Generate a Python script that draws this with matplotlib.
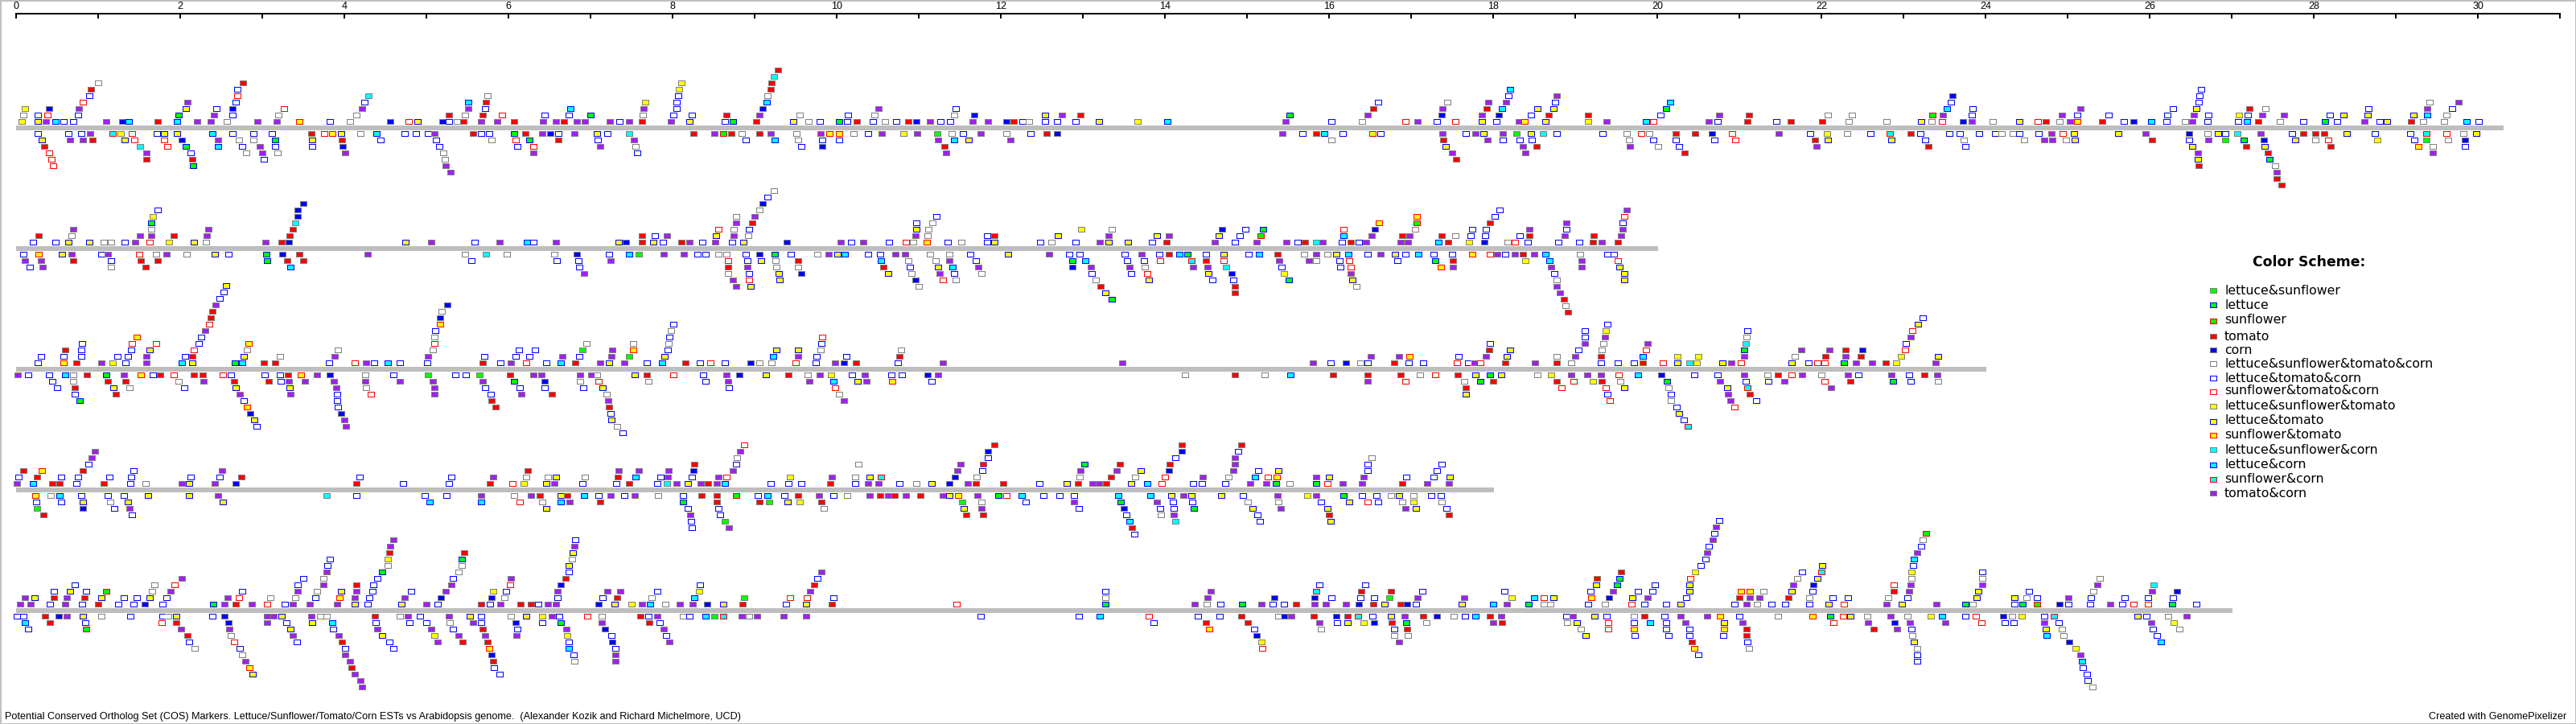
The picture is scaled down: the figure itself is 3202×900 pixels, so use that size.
import matplotlib
matplotlib.use("Agg")
import matplotlib.pyplot as plt
from matplotlib.patches import Rectangle

# ---------- data: marker positions (Mb) by row above (U) / below (D) each chromosome, with class codes ----------
CHROM_LENGTHS = [30.31, 20.01, 24.01, 18.01, 27.01]
RULER_TICKS = list(range(32))
RULER_LABELS = [str(i) if i % 2 == 0 else "" for i in RULER_TICKS]

CLASS_NAMES = ["lettuce&sunflower", "lettuce", "sunflower", "tomato", "corn",
               "lettuce&sunflower&tomato&corn", "lettuce&tomato&corn", "sunflower&tomato&corn",
               "lettuce&sunflower&tomato", "lettuce&tomato", "sunflower&tomato",
               "lettuce&sunflower&corn", "lettuce&corn", "sunflower&corn", "tomato&corn"]
CLASS_CODES = "abcTCWBRYyZkKrP"
CLASS_FACE = ["#00FF00", "#00FF00", "#00FF00", "#FF0000", "#0000FF", "#FFFFFF", "#FFFFFF", "#FFFFFF",
              "#FFFF00", "#FFFF00", "#FFFF00", "#00FFFF", "#00FFFF", "#00FFFF", "#A020F0"]
CLASS_EDGE = ["#808080", "#0000FF", "#FF0000", "#808080", "#808080", "#808080", "#0000FF", "#FF0000",
              "#808080", "#0000FF", "#FF0000", "#808080", "#0000FF", "#FF0000", "#808080"]

# Chromosome 1
T1_U1 = [0.07,0.27,0.37,0.49,0.58,0.70,1.10,1.30,1.38,1.73,1.97,2.21,2.38,2.57,2.95,3.18,3.46,3.83,4.07,4.56,4.79,4.90,5.20,5.28,5.38,5.46,5.67,5.87,6.07,6.43,6.58,6.68,6.84,6.94,7.24,7.36,7.48,7.63,7.99,8.21,8.64,8.74,9.02,9.48,9.66,9.80,10.03,10.13,10.25,
 10.45,10.59,10.73,10.88,10.98,11.14,11.27,11.39,11.66,11.85,12.07,12.16,12.27,12.35,12.54,12.69,12.92,13.20,13.67,14.03,15.48,16.03,16.41,16.94,17.08,17.32,17.54,17.87,18.04,18.32,18.39,18.64,19.16,19.39,19.87,19.96,20.63,20.74,
 21.10,21.46,21.63,22.01,22.34,22.80,23.22,23.35,23.48,23.73,23.84,24.09,24.42,24.64,24.74,24.91,25.03,25.12,25.43,25.69,25.81,26.02,26.21,26.44,26.52,26.71,27.08,27.19,27.33,27.59,27.88,28.14,28.29,28.62,28.81,28.90,29.19,29.34,29.59,29.87,30.01]
T1_U1_K = ("YyPKBBPCKTKPPWPPZBWCRyCBWTPPTPPTPPPBPTPyBbTyWBbBT" +
 "BWBTCPBBPPCTBWBBByYKPBWRPBRyBPZyYPKRPB" +
 "TBTTWWyWRCPWyRTWPZTBCKBWPBBKTWBbBPByTWWKB")
T1_U2 = [0.09,0.27,0.39,0.76,1.99,2.42,2.64,3.20,4.15,5.28,5.48,5.69,5.93,6.45,6.74,7.00,7.64,8.01,8.24,8.66,9.06,9.55,10.14,
 10.47,11.44,11.68,12.54,12.75,12.98,15.52,16.48,17.38,17.87,18.07,18.47,18.68,19.16,20.04,20.76,
 21.12,22.08,22.38,23.36,23.49,23.84,24.94,25.12,25.50,26.22,26.54,26.72,27.09,27.20,27.38,27.64,28.20,28.37,28.66,29.22,29.39,29.62]
T1_U2_K = "WBRBbPBWWTWTRBBbWBBTPWB" + "WWCyPTbPCPCBTTBP" + "TWWcPBPBBBPBYBPPByyyKW"
T1_U3 = [0.11,0.41,0.77,2.07,2.45,2.64,3.27,4.22,5.51,5.72,6.76,7.65,8.05,9.10,
 10.51,11.46,16.54,17.39,17.93,18.11,18.54,18.74,20.11,
 23.53,23.85,25.16,26.29,26.57,27.22,27.42,28.67,29.39,29.69]
T1_U3_K = "YCPyBCRPPBKPBC" + "PBTPTKyyb" + "KBPByTWBPB"
T1_U4 = [0.82,2.09,2.68,4.25,5.51,5.73,7.67,8.05,9.15,16.60,17.45,17.95,18.16,18.76,20.16,23.58,26.60,29.42,29.77]
T1_U4_K = "RPBBKTYBK" + "BWPPBK" + "BBWP"
T1_U5 = [0.90,2.70,4.30,5.75,8.07,9.16,18.19,18.78,23.60,26.61]
T1_U5_K = "BRkWBW" + "BP" + "CB"
T1_U6 = [0.92,2.70,8.08,9.20,18.21,26.63]
T1_U6_K = "TBYTKB"
T1_U7 = [1.00,2.77,8.11,9.21]
T1_U7_K = "WTYT"
T1_U8 = [9.24]
T1_U8_K = "k"
T1_U9 = [9.29]
T1_U9_K = "T"
T1_D1 = [0.27,0.64,0.80,0.91,1.18,1.28,1.42,1.72,1.81,1.97,2.40,2.64,2.90,3.12,3.60,3.76,3.86,3.97,4.20,4.40,4.74,4.88,5.02,5.10,5.57,5.67,5.77,6.07,6.21,6.42,6.51,6.61,6.81,7.08,7.21,7.48,8.26,8.51,8.62,8.72,8.85,9.06,9.20,9.51,9.81,9.92,10.03,10.21,
 10.39,10.55,10.82,10.99,11.23,11.41,11.54,11.76,12.07,12.37,12.56,12.69,15.44,15.68,15.85,15.95,16.17,16.53,16.63,17.39,17.67,17.79,17.89,18.12,18.29,18.47,18.61,18.78,19.34,19.63,19.81,19.91,20.23,20.47,20.67,
 20.92,21.49,21.87,22.07,22.32,22.60,22.84,23.09,23.21,23.56,23.69,23.93,24.12,24.20,24.34,24.42,24.65,24.81,24.95,25.08,25.62,25.96,26.49,26.71,26.84,26.93,27.07,27.36,27.74,27.88,28.02,28.13,28.41,28.75,29.18,29.38,29.62,29.83,29.99]
T1_D1_K = "BBBPrYRByyKBBBTRZyWKBBBPTBBbTPCBPyBkTPcTWTPWPZZW" + "BPYPaWBPWBTCPBTKBZBPBPyPaykBBWRWTTC" + "RPBYWBrTBBBBBWWBBPRyyPCWyBkPBTTTyBBrRWy"
T1_D2 = [0.32,0.66,0.82,0.94,1.33,1.45,1.81,2.02,2.47,2.72,2.90,3.16,3.61,3.98,4.45,5.12,5.80,6.09,6.26,6.61,7.09,7.53,8.90,9.25,9.53,9.83,10.03,
 11.24,11.44,11.61,12.12,16.03,17.40,17.94,18.12,18.33,18.48,19.66,19.96,20.23,20.70,
 20.96,21.93,22.08,22.86,23.27,23.74,24.48,24.72,24.82,24.99,25.09,26.03,26.49,26.72,26.93,27.15,27.40,27.78,28.02,28.18,28.78,29.23,29.38,29.64,29.85]
T1_D2_K = "yPPTyRRCPWWbyTBBWRbTBPBKWBB" + "PKyPWTPBBBWBBB" + "RTyyBWWPPWyTBPabCyWRYBaWC"
T1_D3 = [0.35,1.51,1.85,2.07,2.47,2.76,2.98,3.16,3.61,3.99,5.16,6.11,6.31,7.12,7.55,9.57,9.83,
 11.32,17.43,18.37,18.53,19.67,20.01,20.27,
 21.95,23.31,23.76,26.52,27.18,27.41,28.21,29.28,29.46,29.85]
T1_D3_K = "TkRbKBPBBCBBRPWBC" + "TyPTPWB" + "PTByTyTZWB"
T1_D4 = [0.41,1.59,2.13,2.81,3.00,3.19,4.01,5.21,6.31,7.57,11.34,17.50,18.40,20.34,26.59,27.45,29.46]
T1_D4_K = "RPBWPWPWPB" + "PPPT" + "PTP"
T1_D5 = [0.44,1.59,2.15,3.02,5.23,17.55,26.59,27.47]
T1_D5_K = "RTTBWTyb"
T1_D6 = [0.46,2.16,5.24,26.60,27.53]
T1_D6_K = "RbPTW"
T1_D7 = [5.30,27.55]
T1_D7_K = "PP"
T1_D8 = [27.55]
T1_D8_K = "T"
T1_D9 = [27.61]
T1_D9_K = "T"

# Chromosome 2
T2_U1 = [0.21,0.49,0.64,0.90,1.07,1.16,1.33,1.46,1.63,1.87,2.17,2.32,3.04,3.24,3.33,4.75,5.06,5.59,5.90,6.23,6.31,6.58,7.35,7.44,7.63,7.77,7.89,8.11,8.21,8.37,8.52,8.73,8.87,9.40,10.05,10.18,
 10.33,10.64,10.85,10.94,11.10,11.36,11.52,11.84,11.93,12.49,12.62,12.92,13.21,13.32,13.55,13.85,14.02,14.61,14.86,15.12,15.49,15.62,15.71,15.85,15.93,16.16,16.27,16.37,16.46,16.88,16.97,17.34,17.46,17.71,17.90,18.18,18.27,18.43,18.80,19.05,19.22,19.33,19.52]
T2_U1_K = "BByyWWBPRYyWPTCyPBPKBPyCTyBTPBPBy" + "CPB" + "PBRWZBWByBWBPyyBTPBPPBTkPBTBPPPKTYCWRBBBTPT"
T2_U2 = [0.28,0.68,1.51,1.65,1.93,2.33,3.34,7.63,7.79,7.94,8.53,8.75,8.93,
 10.97,11.11,11.84,11.93,12.70,13.32,13.91,14.05,14.66,14.92,15.17,16.18,16.52,16.90,16.99,17.38,17.54,17.73,17.91,18.33,18.45,18.88,19.23,19.56]
T2_U2_K = "TWPPTPTTBPyPW" + "PWBTyPyPyBcKPTPTWBBBTPTP"
T2_U3 = [0.70,1.65,2.35,3.38,8.56,8.75,8.94,10.98,11.12,12.99,13.36,14.70,14.99,15.20,16.18,16.56,17.05,17.75,17.92,18.45,18.90,19.58]
T2_U3_K = "PWPTRWB" + "yWYWCBbRCWBBPBP"
T2_U4 = [1.65,3.41,8.78,8.98,10.98,11.17,16.61,17.07,17.97,18.90,19.58]
T2_U4_K = "bkPT" + "BWZcTPB"
T2_U5 = [1.67,3.44,8.78,9.00,11.22,17.07,18.02,19.60]
T2_U5_K = "YCWP" + "BZBR"
T2_U6 = [1.73,3.44,9.06,18.08,19.63]
T2_U6_K = "BCWBP"
T2_U7 = [3.50,9.10]
T2_U7_K = "CC"
T2_U8 = [9.16]
T2_U8_K = "B"
T2_U9 = [9.24]
T2_U9_K = "W"
T2_D1 = [0.09,0.28,0.56,0.68,1.04,1.12,1.50,1.71,1.84,2.08,2.43,2.59,3.05,3.25,3.46,4.29,5.48,5.73,5.99,6.56,6.84,7.23,7.48,7.59,7.90,8.14,8.31,8.41,8.56,8.66,8.90,9.06,9.25,9.45,9.77,9.91,10.01,10.10,
 10.39,10.53,10.72,10.84,11.14,11.38,11.63,12.09,12.59,12.84,12.97,13.51,13.72,13.94,14.05,14.18,14.28,14.50,14.72,15.02,15.15,15.38,15.70,15.85,15.99,16.09,16.24,16.48,16.63,16.81,16.94,17.09,17.28,17.50,17.75,17.97,18.05,18.15,18.27,18.37,18.50,18.64,19.06,19.40,19.48]
T2_D1_K = "BZyPBPRWPWyBbCTPWkWWCBKaPPBBWWBCbBWPyK" + "BBPPWWByPBBBPBTKbByBKTWPWyKBPyBKBBZRPBPTPKWBB"
T2_D2 = [0.11,0.31,0.70,1.16,1.52,1.73,3.06,3.31,3.50,5.55,6.59,6.86,7.25,8.68,8.92,9.08,9.26,9.53,
 10.54,10.88,11.21,11.38,11.70,12.88,13.03,13.54,13.75,13.95,14.33,14.50,14.72,15.40,15.76,15.85,16.13,16.25,16.84,17.30,17.51,18.40,18.69,19.08,19.52]
T2_D2_K = "PPTBTTbTTBBBPRByWT" + "KWWPBbKBBRrTRPPWBRBbTYKPR"
T2_D3 = [0.17,0.33,1.16,1.58,3.35,6.87,8.68,8.92,9.27,9.53,
 10.57,10.90,11.24,11.42,11.73,12.88,13.10,13.57,13.76,14.35,14.52,14.75,15.43,16.14,16.27,17.37,17.51,18.71,19.08,19.54]
T2_D3_K = "BPWTKBTPWW" + "TByKPCPPWPPkBBRZPPPy"
T2_D4 = [6.93,8.68,8.94,9.30,9.57,10.63,10.92,11.26,11.44,11.77,13.11,13.59,13.79,14.53,14.82,15.46,16.27,18.75,19.60]
T2_D4_K = "PWByC" + "yWPBWBBRyCYPBy"
T2_D5 = [8.74,8.94,9.31,10.97,11.30,11.46,13.16,13.81,14.58,14.84,15.51,16.29,18.78,19.60]
T2_D5_K = "PRy" + "CRWWyBBbyWy"
T2_D6 = [8.78,8.96,11.00,13.22,14.86,16.34,18.78]
T2_D6_K = "Py" + "WTTWP"
T2_D7 = [13.28,14.86,18.82]
T2_D7_K = "yTP"
T2_D8 = [13.36,18.87]
T2_D8_K = "bT"
T2_D9 = [18.89]
T2_D9_K = "W"
T2_D10 = [18.92]
T2_D10_K = "T"

# Chromosome 3
T3_U1 = [0.27,0.58,0.74,1.04,1.18,1.34,1.59,2.02,2.15,2.67,2.76,3.02,3.16,3.82,4.13,4.27,4.37,4.53,4.68,5.01,5.69,5.91,6.03,6.22,6.47,6.64,6.82,7.12,7.23,7.42,7.69,7.88,8.16,8.34,8.47,8.64,8.96,9.06,9.21,9.50,9.75,9.99,10.09,10.24,
 10.75,11.30,13.49,15.81,16.02,16.21,16.39,16.48,16.80,16.98,17.15,17.56,17.70,17.77,17.85,18.15,18.51,18.78,18.96,19.32,19.52,19.72,19.83,20.07,20.25,20.40,20.49,20.80,
 20.91,21.02,21.64,21.85,21.96,22.04,22.28,22.43,22.62,22.79,22.92,23.40]
T3_U1_K = "BZTPYBPKybKTTBRPBKBBTBPRBKTPyPBKTBRBCWWRBPCT" + "BPPPBCWBTBBRBPRTPTWBBBTRykYy" + "PRyBRRbPPTYP"
T3_U2 = [0.31,0.58,0.80,1.24,1.37,1.59,2.06,2.15,2.78,3.22,3.89,5.02,5.71,6.09,6.26,6.66,6.87,7.26,7.48,7.91,9.23,9.53,9.76,10.12,
 10.77,16.51,16.86,16.99,17.58,17.92,18.17,18.78,19.00,19.32,19.83,20.25,20.50,
 21.06,21.68,22.05,22.30,22.49,22.98,23.43]
T3_U2_K = "BBBBBPBTyWPPBBBPBPayKPBB" + "TPPZBPyWPTKYY" + "PWTPTYy"
T3_U3 = [0.60,0.80,1.41,1.63,2.17,2.82,3.93,5.08,6.13,6.33,6.91,7.27,7.52,7.95,9.27,9.53,9.81,
 10.79,17.96,18.21,19.04,19.33,19.87,21.06,21.76,22.10,22.30,22.50,23.02]
T3_U3_K = "TBByRWWWBBaPZByyW" + "WTyBWR" + "bPPTCR"
T3_U4 = [0.81,1.42,1.71,2.23,2.84,5.10,6.96,7.52,7.96,9.82,17.97,19.12,19.35,19.89,21.08,23.03]
T3_U4_K = "BRRBZRWWWB" + "BPWP" + "kB"
T3_U5 = [1.48,2.26,5.10,7.97,9.83,19.12,19.37,21.09,23.09]
T3_U5_K = "ZBWBR" + "BP" + "WP"
T3_U6 = [2.31,5.11,7.99,19.12,19.38,21.10,23.11]
T3_U6_K = "PBW" + "BY" + "BR"
T3_U7 = [2.36,5.17,8.01,19.40,23.18]
T3_U7_K = "RZBBy"
T3_U8 = [2.38,5.17,23.24]
T3_U8_K = "TCB"
T3_U9 = [2.40,5.19]
T3_U9_K = "TW"
T3_U10 = [2.44,5.26]
T3_U10_K = "PC"
T3_U11 = [2.49]
T3_U11_K = "B"
T3_U12 = [2.53]
T3_U12_K = "B"
T3_U13 = [2.56]
T3_U13_K = "y"
T3_D1 = [0.02,0.15,0.41,0.60,0.70,0.87,1.10,1.32,1.52,1.67,1.76,1.93,2.17,2.28,2.52,2.62,3.03,3.22,3.32,3.48,3.67,3.83,4.26,4.60,5.02,5.36,5.49,5.65,6.02,6.31,6.41,6.88,7.01,7.08,7.54,7.69,8.01,8.38,8.66,8.82,9.14,9.42,9.65,9.80,9.94,10.19,
 10.35,10.67,10.80,11.11,11.24,14.25,14.86,15.22,15.53,16.05,16.48,16.88,17.11,17.30,17.57,17.79,17.97,18.10,18.54,18.71,18.96,19.15,19.32,19.53,19.77,20.05,20.46,20.74,
 21.06,21.35,21.48,21.64,21.77,22.00,22.33,22.46,22.86,23.07,23.26,23.42]
T3_D1_K = "PBBKWTbPZBTRTTRBBBTZPCWBaBBaTPPPPWyTRBPCyTWPYB" + "PBBCPWTWKTTTWRTybyWYPPPRKCBB" + "PWTRPWPBPBTP"
T3_D2 = [0.45,0.70,1.12,1.34,1.99,2.29,2.66,3.08,3.23,3.33,3.52,3.88,4.26,4.68,5.08,5.69,6.07,6.45,6.88,7.10,7.71,8.41,8.68,9.67,9.97,10.26,
 10.37,10.68,11.16,16.48,16.94,17.65,17.85,18.00,18.78,18.99,19.22,19.33,19.55,20.12,20.77,
 21.08,21.36,21.55,22.04,22.36,22.88,23.09,23.43]
T3_D2_K = "BWTTWPTTBPPPPPPPbCWRWBPPKy" + "PZBPRWbTTRYTWbP" + "BBPRTbBW"
T3_D3 = [0.50,0.72,1.19,1.39,2.05,2.68,3.34,3.91,4.27,5.10,5.72,6.14,6.45,6.92,7.15,8.69,9.99,
 17.67,18.84,19.38,19.60,20.14,20.86,21.10,22.12]
T3_D3_K = "BTyWByyPWPBBBByBR" + "TRRyW" + "yrP"
T3_D4 = [0.72,1.22,2.73,3.35,3.92,4.33,5.10,5.79,6.16,6.53,7.20,10.03,17.67,19.40,20.17,20.87,21.13]
T3_D4_K = "BTPPBRPBPTWW" + "yBB" + "PT"
T3_D5 = [0.78,2.78,3.92,5.80,7.22,10.09,19.43,20.17,20.90,21.21]
T3_D5_K = "bBBTPP" + "RW" + "PB"
T3_D6 = [2.82,3.93,5.85,7.23,20.24,20.95]
T3_D6_K = "ZBTTBR"
T3_D7 = [2.86,3.97,7.25,20.27]
T3_D7_K = "CCBy"
T3_D8 = [2.91,4.00,7.26,20.33]
T3_D8_K = "yPyB"
T3_D9 = [2.94,4.02,7.33,20.38]
T3_D9_K = "BPWr"
T3_D10 = [7.40]
T3_D10_K = "B"

# Chromosome 4
T4_U1 = [0.01,0.21,0.45,0.53,0.74,1.07,1.40,1.58,2.02,2.11,2.43,2.68,4.15,4.72,5.28,5.78,6.05,6.19,6.47,6.56,6.91,7.32,7.48,7.82,7.94,8.05,8.19,8.35,8.44,8.54,8.64,9.20,9.42,9.57,9.93,10.23,
 10.39,10.51,10.77,10.98,11.16,11.38,11.60,11.70,12.03,12.48,12.81,12.95,13.12,13.20,13.29,13.59,13.79,13.97,14.35,14.46,14.74,15.04,15.24,15.36,15.52,15.85,15.99,16.17,16.41,16.90,17.20,17.47]
T4_U1_K = "PKTTBTBWPyPCTBBTRYyPBBTBkPyPTPKBBBTB" + "PPBWyCPTTByTPPTyKRBBBPPbWbRPPTPP"
T4_U2 = [0.03,0.26,0.55,0.76,1.14,1.41,2.13,2.49,2.75,4.19,5.31,5.82,6.22,6.49,6.58,6.94,7.34,7.55,7.86,7.95,8.24,8.56,8.66,9.44,9.95,10.23,
 10.41,10.54,11.45,11.71,12.97,13.35,13.64,14.00,14.47,14.78,15.10,15.26,15.37,15.85,16.00,16.43,16.95,17.28,17.48]
T4_U2_K = "BTBBBBBBTBBPWWyWTKBPBPRYPW" + "yrCWWTWRPWKRZPyPBBy"
T4_U3 = [0.09,0.32,0.82,1.44,2.51,6.24,7.35,7.59,7.96,8.26,8.74,11.48,11.78,12.98,13.42,13.71,14.05,14.84,15.14,15.39,16.48,17.32]
T4_U3_K = "TZTBPTPPPCP" + "PBPPyCPByBB"
T4_U4 = [0.89,8.27,8.78,10.27,11.51,11.79,13.02,13.46,14.06,14.86,16.48,17.38]
T4_U4_K = "BTBW" + "PTbTTPBB"
T4_U5 = [0.93,8.79,11.85,14.13,14.86,16.52]
T4_U5_K = "PW" + "BBPW"
T4_U6 = [0.97,8.83,11.85,14.21,14.90]
T4_U6_K = "PP" + "CCB"
T4_U7 = [8.88,11.93,14.21,14.94]
T4_U7_K = "RTTT"
T4_D1 = [0.24,0.43,0.53,0.80,1.12,1.32,1.61,2.11,2.47,3.79,4.15,4.99,5.25,5.67,6.07,6.28,6.39,6.64,6.72,6.93,7.10,7.25,7.42,7.54,7.83,8.13,8.36,8.54,8.78,9.04,9.16,9.37,9.53,9.79,9.97,10.13,
 10.41,10.53,10.63,10.71,10.85,11.02,11.30,11.38,11.49,11.72,11.98,12.07,12.26,12.52,12.72,12.90,13.44,13.83,14.08,14.23,14.33,14.69,14.96,15.38,15.74,15.85,16.18,16.41,16.58,16.76,16.86,17.03,17.25,17.37]
T4_D1_K = "ZWKBBByyPkBBBPWPTyTKBPBPWBTTcBKBTPBW" + "PTPTPTPyZPbRKBBBKKyPyyBPYPbBBWyWBB"
T4_D2 = [0.25,0.55,0.82,1.15,1.37,2.52,5.04,5.67,6.14,6.42,6.64,6.75,7.12,8.13,8.54,9.06,9.18,9.41,9.55,9.82,
 11.53,11.77,12.31,12.90,13.47,13.91,14.10,14.34,15.01,15.39,15.91,16.25,16.48,16.60,16.90,17.03,17.38]
T4_D2_K = "BByWyyKKRWKPTbTTayYT" + "aWBPbPBBWWByRBWYW"
T4_D3 = [0.26,0.82,1.20,1.39,6.47,8.19,8.56,9.85,11.55,11.77,12.96,13.50,13.95,14.11,14.36,15.07,15.42,15.99,16.94,17.06,17.44]
T4_D3_K = "aCBPyBBW" + "yPBCBBbyPyPyB"
T4_D4 = [0.34,1.42,8.22,8.58,11.58,11.79,13.53,13.96,14.11,15.13,16.00,17.47]
T4_D4_K = "TBPB" + "TTBWPBTT"
T4_D5 = [8.23,8.64,13.57,14.13,15.16,16.02]
T4_D5_K = "BaKkBy"
T4_D6 = [8.24,8.69,13.60]
T4_D6_K = "BPT"
T4_D7 = [13.63]
T4_D7_K = "B"

# Chromosome 5
T5_U1 = [0.05,0.18,0.42,0.60,0.81,1.00,1.25,1.44,1.57,1.79,2.41,2.54,2.68,2.88,3.06,3.28,3.38,3.58,3.92,4.13,4.29,4.70,5.00,5.14,5.67,5.78,5.91,6.15,6.28,6.37,6.49,6.58,7.10,7.30,7.50,7.63,7.73,7.92,8.09,8.25,8.43,8.62,8.86,9.39,9.63,9.95,
 11.47,13.28,14.37,14.51,14.68,14.95,15.18,15.32,15.46,15.60,15.83,15.97,16.21,16.37,16.54,16.68,16.88,16.96,17.06,17.62,18.00,18.17,18.44,18.62,18.70,19.16,19.37,19.69,19.85,20.11,20.29,
 20.95,21.09,21.22,21.40,21.56,21.86,22.09,22.28,22.80,22.99,23.41,23.76,23.85,24.36,24.46,24.63,24.91,25.01,25.28,25.52,25.67,25.81,25.99,26.28,26.57]
T5_U1_K = "PPBPBTBBCBbPTPRBPPPyByPBTBPTTBPPCyYPKWPPCyTByT" + "RbPWBbPBBTPPPCTyTCByKPbWWBWRBBy" + "BPWBBByRPyPbWBbcCBBPBRRbB"
T5_U2 = [0.11,0.23,0.47,0.62,0.84,1.04,1.32,1.48,1.63,1.84,2.58,2.72,3.10,3.41,3.65,3.95,4.13,4.31,4.74,5.18,5.80,5.96,6.60,7.15,7.33,7.75,8.27,8.88,9.44,9.64,9.97,
 13.28,14.52,15.34,15.83,16.03,16.39,16.55,16.74,17.08,17.65,18.23,18.50,18.62,18.74,19.20,19.42,19.70,19.89,20.36,
 21.00,21.13,21.25,21.60,21.86,22.14,22.33,22.82,23.05,23.90,24.36,24.50,24.63,25.01,25.29,25.70,25.99,26.29]
T5_U2_K = "PyTPTyBByBPRWWBZPBPCCWBBTWKaRRB" + "WPCCBBBaPPYKRyZCyPB" + "TPPTWBBWByyWBPBBBB"
T5_U3 = [0.47,0.66,0.86,1.10,1.66,1.89,2.76,3.44,3.67,3.97,4.15,4.35,4.82,5.24,5.82,5.98,6.60,7.21,7.37,7.82,8.33,9.68,
 13.28,14.56,15.85,16.40,16.76,17.14,18.14,19.19,19.47,19.77,19.95,20.40,
 21.02,21.13,21.30,21.64,21.90,22.89,23.07,23.92,24.53,25.32,26.03,26.34]
T5_U3_K = "ByBcWPBPWyPBBPYBPPPBYP" + "BPrTTBBBPBBy" + "ZZWyBTPyBWPC"
T5_U4 = [0.72,1.69,1.94,3.44,3.75,4.15,4.36,5.31,6.02,6.64,8.34,9.73,15.89,16.45,19.26,19.51,19.98,20.40,21.66,21.91,22.89,23.09,23.97,25.37,26.05]
T5_U4_K = "BWRBPTBPRCBT" + "BBybBy" + "PCRPPPk"
T5_U5 = [2.02,3.50,3.75,4.41,5.33,6.03,6.70,9.77,19.27,19.54,20.41,21.71,21.96,23.10,23.97,25.40]
T5_U5_K = "PBWBBPTB" + "TbR" + "WyWWW"
T5_U6 = [3.79,4.47,5.40,6.74,9.82,19.56,20.47,21.77,22.00,23.10,23.97]
T5_U6_K = "PbWBP" + "TY" + "BrYB"
T5_U7 = [3.80,4.53,5.44,6.74,20.53,22.01,23.12]
T5_U7_K = "BWWy" + "B" + "yB"
T5_U8 = [3.83,4.53,5.44,6.78,20.59,23.13]
T5_U8_K = "BYbWBK"
T5_U9 = [4.55,5.47,6.79,20.61,23.17]
T5_U9_K = "TTyPP"
T5_U10 = [4.56,6.81,20.63,23.22]
T5_U10_K = "PPBB"
T5_U11 = [4.60,6.82,20.68,23.24]
T5_U11_K = "PBPW"
T5_U12 = [20.70,23.28]
T5_U12_K = "Bc"
T5_U13 = [20.72]
T5_U13_K = "P"
T5_U14 = [20.76]
T5_U14_K = "B"
T5_D1 = [0.01,0.09,0.36,0.52,0.62,0.82,1.04,1.40,1.79,1.86,1.96,2.40,2.54,3.06,3.14,3.24,3.60,3.71,3.79,4.38,4.68,4.78,4.93,5.28,5.53,5.67,6.03,6.22,6.42,6.53,6.62,6.97,7.14,7.61,7.71,7.82,8.13,8.21,8.41,8.51,8.62,8.85,8.94,9.03,9.36,9.63,
 11.76,12.96,13.21,13.81,14.41,14.67,14.94,15.39,15.46,15.54,15.82,16.09,16.23,16.36,16.53,16.76,16.93,17.15,17.32,17.52,17.66,17.79,17.97,18.10,18.90,18.98,19.24,19.39,19.72,19.85,20.09,20.29,20.61,20.77,
 21.00,21.48,21.90,22.11,22.27,22.36,22.56,22.85,23.05,23.34,23.48,23.76,23.89,24.22,24.33,24.45,24.72,24.84,25.86,25.97,26.23,26.46]
T5_D1_K = "BBTCPyWBBWyBCPPyPWWTWPBPyBWyYPBRWTBPWBKarPWPPP"[:46] + "BBKRBBTWCPTCTrByPTCWBKTPBPyBWTBPPZ" + "BWZbRyWPWYKBRCWYBryBWP"
T5_D2 = [0.11,0.42,0.85,1.78,1.96,2.59,3.06,3.30,3.61,3.86,4.39,4.80,5.00,5.29,5.57,5.67,6.09,6.42,6.64,7.14,7.72,7.85,
 13.87,14.50,15.01,15.89,16.10,16.23,16.43,16.55,16.77,16.95,17.19,18.00,18.11,18.91,19.02,19.41,19.72,19.92,20.11,20.35,
 20.82,21.04,22.15,22.57,22.90,23.08,23.51,23.96,24.24,24.35,24.72,24.90,26.02,26.30]
T5_D2_K = "KTBRTCPByKBBBWPBCBbPTB" + "BTTPByYCTbWPTWyRBKBP" + "yPRPCPPRBBPBPY"
T5_D3 = [0.15,0.86,2.01,2.60,3.35,3.87,4.41,5.06,5.33,5.69,6.11,6.71,7.18,7.90,
 14.54,15.09,15.91,16.80,16.96,19.07,19.41,19.72,20.11,20.40,
 20.82,21.09,22.64,22.93,23.10,24.74,24.94,26.04,26.37]
T5_D3_K = "BcPPyBPPBTBPCP" + "ZBWBTWRZBB" + "ZTTPByWBW"
T5_D4 = [2.09,2.62,3.38,3.94,4.47,5.10,5.40,5.72,6.10,6.72,7.26,7.93,
 15.12,16.80,16.97,19.13,19.73,20.14,20.40,
 20.81,21.09,23.11,24.75,24.96,26.09]
T5_D4_K = "TWPPyYPPPYBB" + "CWWyBBB" + "BTWKWB"
T5_D5 = [2.11,2.66,3.43,3.98,4.55,5.14,5.45,5.75,6.74,7.27,7.97,15.18,16.86,20.43,21.10,23.13,25.02,26.14]
T5_D5_K = "BRBTBPTTBCP" + "YPT" + "ByCK"
T5_D6 = [2.18,2.73,4.01,4.60,5.77,6.74,7.31,15.19,20.46,21.12,23.17,25.10]
T5_D6_K = "WBBBZKB" + "RZ" + "WWY"
T5_D7 = [2.76,4.01,5.80,6.80,7.31,20.50,23.17,25.16]
T5_D7_K = "WPCBPBBP"
T5_D8 = [2.80,4.07,5.82,6.81,7.31,23.17,25.18]
T5_D8_K = "PPTWPBK"
T5_D9 = [2.85,4.09,5.83,25.19]
T5_D9_K = "ZTBB"
T5_D10 = [2.89,4.13,5.90,25.24]
T5_D10_K = "yPBB"
T5_D11 = [4.20,25.25]
T5_D11_K = "PB"
T5_D12 = [4.22,25.31]
T5_D12_K = "PW"

TRACK_UP = [
    [(T1_U1,T1_U1_K),(T1_U2,T1_U2_K),(T1_U3,T1_U3_K),(T1_U4,T1_U4_K),(T1_U5,T1_U5_K),(T1_U6,T1_U6_K),(T1_U7,T1_U7_K),(T1_U8,T1_U8_K),(T1_U9,T1_U9_K)],
    [(T2_U1,T2_U1_K),(T2_U2,T2_U2_K),(T2_U3,T2_U3_K),(T2_U4,T2_U4_K),(T2_U5,T2_U5_K),(T2_U6,T2_U6_K),(T2_U7,T2_U7_K),(T2_U8,T2_U8_K),(T2_U9,T2_U9_K)],
    [(T3_U1,T3_U1_K),(T3_U2,T3_U2_K),(T3_U3,T3_U3_K),(T3_U4,T3_U4_K),(T3_U5,T3_U5_K),(T3_U6,T3_U6_K),(T3_U7,T3_U7_K),(T3_U8,T3_U8_K),(T3_U9,T3_U9_K),(T3_U10,T3_U10_K),(T3_U11,T3_U11_K),(T3_U12,T3_U12_K),(T3_U13,T3_U13_K)],
    [(T4_U1,T4_U1_K),(T4_U2,T4_U2_K),(T4_U3,T4_U3_K),(T4_U4,T4_U4_K),(T4_U5,T4_U5_K),(T4_U6,T4_U6_K),(T4_U7,T4_U7_K)],
    [(T5_U1,T5_U1_K),(T5_U2,T5_U2_K),(T5_U3,T5_U3_K),(T5_U4,T5_U4_K),(T5_U5,T5_U5_K),(T5_U6,T5_U6_K),(T5_U7,T5_U7_K),(T5_U8,T5_U8_K),(T5_U9,T5_U9_K),(T5_U10,T5_U10_K),(T5_U11,T5_U11_K),(T5_U12,T5_U12_K),(T5_U13,T5_U13_K),(T5_U14,T5_U14_K)],
]
TRACK_DOWN = [
    [(T1_D1,T1_D1_K),(T1_D2,T1_D2_K),(T1_D3,T1_D3_K),(T1_D4,T1_D4_K),(T1_D5,T1_D5_K),(T1_D6,T1_D6_K),(T1_D7,T1_D7_K),(T1_D8,T1_D8_K),(T1_D9,T1_D9_K)],
    [(T2_D1,T2_D1_K),(T2_D2,T2_D2_K),(T2_D3,T2_D3_K),(T2_D4,T2_D4_K),(T2_D5,T2_D5_K),(T2_D6,T2_D6_K),(T2_D7,T2_D7_K),(T2_D8,T2_D8_K),(T2_D9,T2_D9_K),(T2_D10,T2_D10_K)],
    [(T3_D1,T3_D1_K),(T3_D2,T3_D2_K),(T3_D3,T3_D3_K),(T3_D4,T3_D4_K),(T3_D5,T3_D5_K),(T3_D6,T3_D6_K),(T3_D7,T3_D7_K),(T3_D8,T3_D8_K),(T3_D9,T3_D9_K),(T3_D10,T3_D10_K)],
    [(T4_D1,T4_D1_K),(T4_D2,T4_D2_K),(T4_D3,T4_D3_K),(T4_D4,T4_D4_K),(T4_D5,T4_D5_K),(T4_D6,T4_D6_K),(T4_D7,T4_D7_K)],
    [(T5_D1,T5_D1_K),(T5_D2,T5_D2_K),(T5_D3,T5_D3_K),(T5_D4,T5_D4_K),(T5_D5,T5_D5_K),(T5_D6,T5_D6_K),(T5_D7,T5_D7_K),(T5_D8,T5_D8_K),(T5_D9,T5_D9_K),(T5_D10,T5_D10_K),(T5_D11,T5_D11_K),(T5_D12,T5_D12_K)],
]

FOOT_LEFT = "Potential Conserved Ortholog Set (COS) Markers. Lettuce/Sunflower/Tomato/Corn ESTs vs Arabidopsis genome.  (Alexander Kozik and Richard Michelmore, UCD)"
FOOT_RIGHT = "Created with GenomePixelizer"

# ---------- layout (pixels of the 3202x900 canvas) ----------
W, H, DPI = 3202, 900, 100
PX = 72 / DPI
X0, SCALE = 20, 102
FACE = dict(zip(CLASS_CODES, CLASS_FACE))
EDGE = dict(zip(CLASS_CODES, CLASS_EDGE))
BAR_Y = [159, 309, 459, 609, 759]
OUT_W, OUT_H = 9, 7
IN_W, IN_H = 7, 5
LEG_MY = [361.3,379.3,399.3,418.3,435.3,452.3,470.3,487.3,505.3,524.3,541.3,559.3,578.3,596.3,613.3]
LEG_TY = [361.7,379,397,418.7,435,452.7,470.7,486,504.7,522.7,540.7,559.7,577.7,595,613]

fig = plt.figure(figsize=(W / DPI, H / DPI), dpi=DPI, facecolor="white")
ax = fig.add_axes([0, 0, 1, 1])
ax.set_xlim(-X0 / SCALE, (W - X0) / SCALE)
ax.set_ylim(H, 0)
ax.axis("off")

for ln, yc in zip(CHROM_LENGTHS, BAR_Y):
    ax.barh(yc, ln, height=6, left=0, color="#BEBEBE", linewidth=0, zorder=1)

# each marker: outer bar in the edge colour, inner bar in the face colour
z = 2
for yc, ups, downs in zip(BAR_Y, TRACK_UP, TRACK_DOWN):
    for sign, base, rows in ((-1, -7.67, ups), (1, 7.33, downs)):
        for r, (pos, codes) in enumerate(rows):
            y = yc + base + sign * 8 * r
            ec = [EDGE[c] for c in codes]
            fc = [FACE[c] for c in codes]
            ax.bar(pos, OUT_H, width=OUT_W / SCALE, bottom=y - OUT_H / 2, color=ec, linewidth=0,
                   antialiased=False, zorder=z)
            ax.bar(pos, IN_H, width=IN_W / SCALE, bottom=y - IN_H / 2, color=fc, linewidth=0,
                   antialiased=False, zorder=z + 0.5)

# ruler
rul = fig.add_axes([X0 / W, 1 - 17 / H, 31 * SCALE / W, 1e-5])
rul.set_xlim(0, 31)
rul.set_yticks([])
for s in ("left", "right", "bottom"):
    rul.spines[s].set_visible(False)
rul.spines["top"].set_linewidth(2 * PX)
rul.set_xticks(RULER_TICKS)
rul.set_xticklabels(RULER_LABELS, fontfamily="Liberation Sans", fontsize=12.5 * PX)
rul.tick_params(axis="x", top=True, bottom=False, labeltop=True, labelbottom=False,
                direction="in", length=6 * PX, width=2 * PX, pad=3 * PX)
rul.patch.set_alpha(0)

# legend
tx = lambda px: (px - X0) / SCALE
ax.text(tx(2800), 326, "Color Scheme:", fontfamily="DejaVu Sans", fontweight="bold",
        fontsize=17.2 * PX, va="center", ha="left", color="black")
for name, code, my, ty in zip(CLASS_NAMES, CLASS_CODES, LEG_MY, LEG_TY):
    ax.add_patch(Rectangle((tx(2747), my - OUT_H / 2), OUT_W / SCALE, OUT_H, facecolor=EDGE[code],
                           linewidth=0, antialiased=False, zorder=2))
    ax.add_patch(Rectangle((tx(2748), my - IN_H / 2), IN_W / SCALE, IN_H, facecolor=FACE[code],
                           linewidth=0, antialiased=False, zorder=2.5))
    ax.text(tx(2765), ty, name, fontfamily="DejaVu Sans", fontsize=15.8 * PX, va="center", ha="left", color="black")

# footers
ax.text(tx(6), 891, FOOT_LEFT, fontfamily="Liberation Sans", fontsize=12.63 * PX, va="center", ha="left", color="black")
ax.text(tx(3190), 891, FOOT_RIGHT, fontfamily="Liberation Sans", fontsize=12.63 * PX, va="center", ha="right", color="black")

# frame
fig.add_artist(Rectangle((0, 0), 1, 1, transform=fig.transFigure, fill=False, edgecolor="#C0C0C0", linewidth=3 * PX))

fig.savefig("out.png", dpi=DPI, facecolor="white")
